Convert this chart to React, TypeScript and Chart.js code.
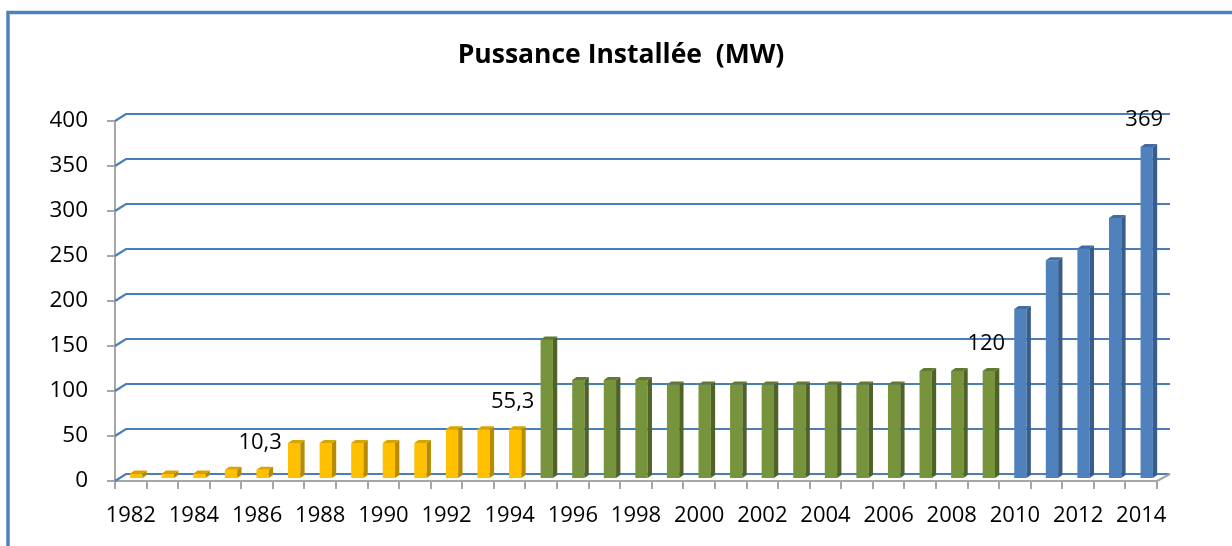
import React, { useEffect, useRef } from "react";
import { Chart, registerables } from "chart.js";

Chart.register(...registerables);

const chartTitle = "Pussance Installée  (MW)";
const years = [
  "1982", "1983", "1984", "1985", "1986", "1987", "1988", "1989", "1990", "1991",
  "1992", "1993", "1994", "1995", "1996", "1997", "1998", "1999", "2000", "2001",
  "2002", "2003", "2004", "2005", "2006", "2007", "2008", "2009", "2010", "2011",
  "2012", "2013", "2014",
];
const capacityMW = [
  6, 6, 6, 10.3, 10.3, 40, 40, 40, 40, 40,
  55.3, 55.3, 55.3, 155, 110, 110, 110, 105, 105, 105,
  105, 105, 105, 105, 105, 120, 120, 120, 189, 243,
  256, 290, 369,
];
const labeledYears = ["1986", "1994", "2009", "2014"];
const yTicks = [0, 50, 100, 150, 200, 250, 300, 350, 400];

const FONT = "'Open Sans', 'DejaVu Sans', sans-serif";

function faceColors(year: number) {
  if (year <= 1994) return { front: "#FFC000", side: "#B88A00", top: "#D9A300" };
  if (year <= 2009) return { front: "#77933C", side: "#4F6228", top: "#627A30" };
  return { front: "#4F81BD", side: "#385D8A", top: "#3F6CA3" };
}

const DEPTH_X = 11; // back wall offset
const DEPTH_Y = 7;
const BAR_SHIFT_X = 5.5; // bars sit at mid depth
const BAR_SHIFT_Y = 2;
const SIDE_X = 4.3;
const SIDE_Y = 3;

const frameAndWall = {
  id: "frameAndWall",
  beforeDraw(chart: any) {
    const { ctx, width, height } = chart;
    ctx.save();
    ctx.fillStyle = "#ffffff";
    ctx.fillRect(0, 0, width, height);
    ctx.strokeStyle = "#4F81BD";
    ctx.lineWidth = 3.5;
    ctx.strokeRect(8, 12.5, width + 40, height + 40);
    // title
    ctx.fillStyle = "#000000";
    ctx.font = `bold 26.5px ${FONT}`;
    ctx.textAlign = "center";
    ctx.textBaseline = "middle";
    ctx.fillText(chartTitle, 621, 55);
    ctx.restore();
  },
  beforeDatasetsDraw(chart: any) {
    const { ctx, chartArea, scales } = chart;
    const y = scales.y;
    ctx.save();
    ctx.strokeStyle = "#4A7EBB";
    ctx.lineWidth = 2.2;
    yTicks.forEach((v) => {
      const py = y.getPixelForValue(v);
      ctx.beginPath();
      ctx.moveTo(chartArea.left, py);
      ctx.lineTo(chartArea.left + DEPTH_X, py - DEPTH_Y);
      ctx.lineTo(chartArea.right + DEPTH_X + 2, py - DEPTH_Y);
      ctx.stroke();
    });
    ctx.strokeStyle = "#A6A6A6";
    ctx.lineWidth = 2;
    ctx.beginPath();
    ctx.moveTo(chartArea.right, chartArea.bottom);
    ctx.lineTo(chartArea.right + DEPTH_X + 2, chartArea.bottom - DEPTH_Y);
    ctx.stroke();
    ctx.restore();
    ctx.save();
    ctx.translate(BAR_SHIFT_X, -BAR_SHIFT_Y);
  },
  afterDatasetsDraw(chart: any) {
    const { ctx } = chart;
    const meta = chart.getDatasetMeta(0);
    meta.data.forEach((el: any, i: number) => {
      const c = faceColors(Number(years[i]));
      const half = el.width / 2;
      const l = el.x - half;
      const r = el.x + half;
      const top = el.y;
      const base = el.base;
      ctx.fillStyle = c.side;
      ctx.beginPath();
      ctx.moveTo(r, top);
      ctx.lineTo(r + SIDE_X, top - SIDE_Y);
      ctx.lineTo(r + SIDE_X, base - SIDE_Y);
      ctx.lineTo(r, base);
      ctx.closePath();
      ctx.fill();
      ctx.fillStyle = c.top;
      ctx.beginPath();
      ctx.moveTo(l, top);
      ctx.lineTo(l + SIDE_X, top - SIDE_Y);
      ctx.lineTo(r + SIDE_X, top - SIDE_Y);
      ctx.lineTo(r, top);
      ctx.closePath();
      ctx.fill();
    });
    ctx.restore();
    ctx.save();
    ctx.fillStyle = "#000000";
    ctx.font = `22px ${FONT}`;
    ctx.textAlign = "center";
    ctx.textBaseline = "middle";
    meta.data.forEach((el: any, i: number) => {
      if (!labeledYears.includes(years[i])) return;
      const txt = String(capacityMW[i]).replace(".", ",");
      ctx.fillText(txt, el.x + 3, el.y - BAR_SHIFT_Y - 27);
    });
    ctx.restore();
  },
};

export default function App() {
  const canvasRef = useRef<HTMLCanvasElement | null>(null);

  useEffect(() => {
    const canvas = canvasRef.current;
    if (!canvas) return;
    const chart = new Chart(canvas, {
      type: "bar",
      data: {
        labels: years,
        datasets: [
          {
            label: "Puissance installée (MW)",
            data: capacityMW,
            backgroundColor: years.map((y) => faceColors(Number(y)).front),
            borderWidth: 0,
            barPercentage: 0.39,
            categoryPercentage: 1,
          },
        ],
      },
      options: {
        responsive: false,
        animation: false,
        devicePixelRatio: 1,
        layout: { padding: { left: 0, right: 75, top: 121, bottom: 0 } },
        plugins: {
          legend: { display: false },
          tooltip: { enabled: false },
          title: { display: false },
        },
        scales: {
          x: {
            offset: true,
            border: { display: true, color: "#A6A6A6", width: 2 },
            grid: {
              display: true,
              drawOnChartArea: false,
              drawTicks: true,
              tickLength: 8,
              color: "#A6A6A6",
              lineWidth: 2,
              offset: true,
            },
            ticks: {
              autoSkip: false,
              maxRotation: 0,
              minRotation: 0,
              padding: 14,
              color: "#000000",
              font: { family: FONT, size: 22 },
              callback: (_v: any, i: number) => (i % 2 === 0 ? years[i] : ""),
            },
            afterFit: (s: any) => {
              s.height = 65;
            },
          },
          y: {
            min: 0,
            max: 400,
            border: { display: true, color: "#A6A6A6", width: 2 },
            grid: {
              display: true,
              drawOnChartArea: false,
              drawTicks: true,
              tickLength: 8,
              color: "#A6A6A6",
              lineWidth: 2,
            },
            ticks: {
              stepSize: 50,
              padding: 19,
              color: "#000000",
              font: { family: FONT, size: 22.5 },
            },
            afterFit: (s: any) => {
              s.width = 115;
            },
          },
        },
      },
      plugins: [frameAndWall],
    });
    return () => chart.destroy();
  }, []);

  return (
    <div style={{ position: "absolute", left: 0, top: 0, width: 1232, height: 546 }}>
      <canvas ref={canvasRef} width={1232} height={546} />
    </div>
  );
}
